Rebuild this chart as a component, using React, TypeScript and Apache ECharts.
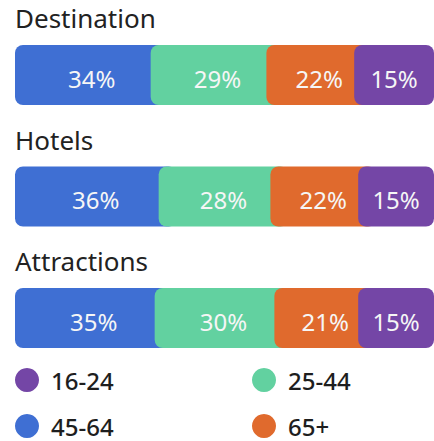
import React, { useEffect, useRef } from 'react';
import * as echarts from 'echarts';

// Rows (top to bottom)
const categories = ['Destination', 'Hotels', 'Attractions'];
// Segments, left to right
const ageGroups = ['45-64', '25-44', '65+', '16-24'];
const ages45to64 = [34, 36, 35];
const ages25to44 = [29, 28, 30];
const ages65plus = [22, 22, 21];
const ages16to24 = [15, 15, 15];
// Legend order (reading order, two columns)
const legendOrder = ['16-24', '25-44', '45-64', '65+'];

const colorBlue = '#3f6fd3';
const colorGreen = '#62d1a0';
const colorOrange = '#e06a2d';
const colorPurple = '#7446a6';
const segmentColors = [colorBlue, colorGreen, colorOrange, colorPurple];

const W = 434;
const H = 441;
const AXIS_MAX = 105;
const OVERLAP = 4.5;
const GRID_LEFT = 15;
const GRID_WIDTH = 420;
const ROW_H = 121.5;
const GRID_TOP = 14.25;
const FONT = '"Noto Sans", sans-serif';

export default function App() {
  const ref = useRef<HTMLDivElement>(null);
  useEffect(() => {
    const chart = echarts.init(ref.current!, null, { renderer: 'svg', width: W, height: H });
    const segs = [ages45to64, ages25to44, ages65plus, ages16to24];
    const series: any[] = [];
    const starts = categories.map(() => 0);
    segs.forEach((vals, k) => {
      const base = starts.slice();
      const last = k === segs.length - 1;
      series.push({
        type: 'bar',
        stack: 's' + k,
        data: base,
        barWidth: 60,
        barGap: '-100%',
        itemStyle: { color: 'transparent' },
        silent: true,
        emphasis: { disabled: true },
      });
      series.push({
        type: 'bar',
        name: ageGroups[k],
        stack: 's' + k,
        barWidth: 60,
        barGap: '-100%',
        data: vals.map((v, i) => (last ? AXIS_MAX - base[i] : v + OVERLAP)),
        itemStyle: { color: segmentColors[k], borderRadius: 8 },
        label: {
          show: true,
          position: 'inside',
          offset: [0, 3],
          formatter: (p: any) => vals[p.dataIndex] + '%',
          color: '#f6f6f6',
          fontSize: 24,
          fontFamily: FONT,
        },
      });
      vals.forEach((v, i) => (starts[i] += v));
    });

    const legends = legendOrder.map((name, i) => ({
      left: i % 2 === 0 ? 15 : 252,
      top: i < 2 ? 367 : 413,
      padding: 0,
      itemWidth: 24,
      itemHeight: 24,
      selectedMode: false,
      textStyle: {
        fontSize: 24,
        lineHeight: 26,
        fontWeight: 500,
        color: '#1e1e1e',
        fontFamily: FONT,
        padding: [0, 0, 0, 7],
      },
      data: [{ name, icon: 'circle' }],
    }));

    chart.setOption({
      animation: false,
      backgroundColor: '#ffffff',
      grid: { left: GRID_LEFT, width: GRID_WIDTH, top: GRID_TOP, height: ROW_H * categories.length },
      xAxis: { type: 'value', min: 0, max: AXIS_MAX, show: false },
      yAxis: { type: 'category', data: categories, inverse: true, show: false },
      legend: legends,
      graphic: categories.map((c, i) => ({
        type: 'text',
        x: GRID_LEFT,
        y: GRID_TOP + ROW_H * (i + 0.5) - 57,
        style: { text: c, fontSize: 26, fontFamily: FONT, fill: '#222222', verticalAlign: 'middle' },
      })),
      series,
    });
    return () => chart.dispose();
  }, []);
  return <div ref={ref} style={{ position: 'absolute', left: 0, top: 0, width: W, height: H }} />;
}
